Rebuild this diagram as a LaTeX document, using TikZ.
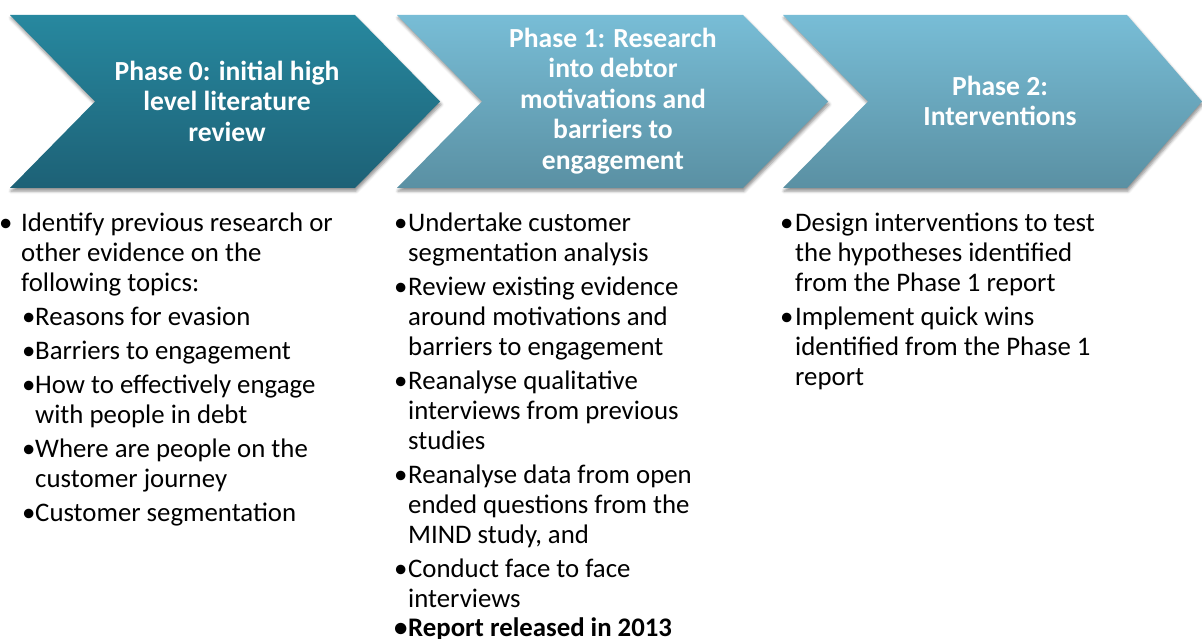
\documentclass[tikz,border=0pt]{standalone}
\usepackage{fontspec}
\setmainfont{Carlito}
\usetikzlibrary{shadows.blur}
\definecolor{darktop}{HTML}{27889F}
\definecolor{darkbot}{HTML}{1D6176}
\definecolor{lighttop}{HTML}{78BDD6}
\definecolor{lightbot}{HTML}{5A90A3}
\newcommand{\tb}[1]{\makebox[#1][l]{•}}
\tikzset{
  chev/.style={blur shadow={shadow xshift=1pt,shadow yshift=-3pt,shadow blur radius=3pt,shadow opacity=45}},
  dark/.style={chev,top color=darktop,bottom color=darkbot},
  light/.style={chev,top color=lighttop,bottom color=lightbot},
  title/.style={text=white,font=\fontsize{27.6}{30.5}\selectfont\bfseries,align=center,inner sep=0pt},
  body/.style={anchor=north west,inner sep=0pt,font=\fontsize{26.8}{30}\selectfont,align=left}
}
\begin{document}
\begin{tikzpicture}[x=1pt,y=-1pt]
\useasboundingbox (0,0) rectangle (1202,639);
% chevrons
\shade[dark] (10,15) -- (355,15) -- (440,101.5) -- (355,188) -- (10,188) -- (95,101.5) -- cycle;
\shade[light] (397,15) -- (743,15) -- (828,101.5) -- (743,188) -- (397,188) -- (482,101.5) -- cycle;
\shade[light] (783,15) -- (1127,15) -- (1202,101.5) -- (1127,188) -- (783,188) -- (868,101.5) -- cycle;
% titles
\node[title] (t0) at (227,101) {Phase 0: initial high\\level literature\\review};
\node[title] (t1) at (613,101) {Phase 1: Research\\into debtor\\motivations and\\barriers to\\engagement};
\node[title] (t2) at (1000,101) {Phase 2:\\Interventions};
% bodies
\node[body] (b0) at (0,210) {\begin{tabular}{@{}l@{}}
\hspace*{-1pt}\tb{22pt}Identify previous research or\\
\hspace*{21pt}other evidence on the\\
\hspace*{21pt}following topics:\\[4pt]
\hspace*{22pt}\tb{13pt}Reasons for evasion\\[4pt]
\hspace*{22pt}\tb{13pt}Barriers to engagement\\[4pt]
\hspace*{22pt}\tb{13pt}How to effectively engage\\
\hspace*{35pt}with people in debt\\[4pt]
\hspace*{22pt}\tb{13pt}Where are people on the\\
\hspace*{35pt}customer journey\\[4pt]
\hspace*{22pt}\tb{13pt}Customer segmentation
\end{tabular}};
\node[body] (b1) at (394,210) {\begin{tabular}{@{}l@{}}
\tb{14pt}Undertake customer\\
\hspace*{14pt}segmentation analysis\\[4pt]
\tb{14pt}Review existing evidence\\
\hspace*{14pt}around motivations and\\
\hspace*{14pt}barriers to engagement\\[4pt]
\tb{14pt}Reanalyse qualitative\\
\hspace*{14pt}interviews from previous\\
\hspace*{14pt}studies\\[4pt]
\tb{14pt}Reanalyse data from open\\
\hspace*{14pt}ended questions from the\\
\hspace*{14pt}MIND study, and\\[4pt]
\tb{14pt}Conduct face to face\\
\hspace*{14pt}interviews\\[-1pt]
\textbf{\tb{14pt}Report released in 2013}
\end{tabular}};
\node[body] (b2) at (780,210) {\begin{tabular}{@{}l@{}}
\tb{15pt}Design interventions to test\\
\hspace*{15pt}the hypotheses identified\\
\hspace*{15pt}from the Phase 1 report\\[4pt]
\tb{15pt}Implement quick wins\\
\hspace*{15pt}identified from the Phase 1\\
\hspace*{15pt}report
\end{tabular}};
\end{tikzpicture}
\end{document}
